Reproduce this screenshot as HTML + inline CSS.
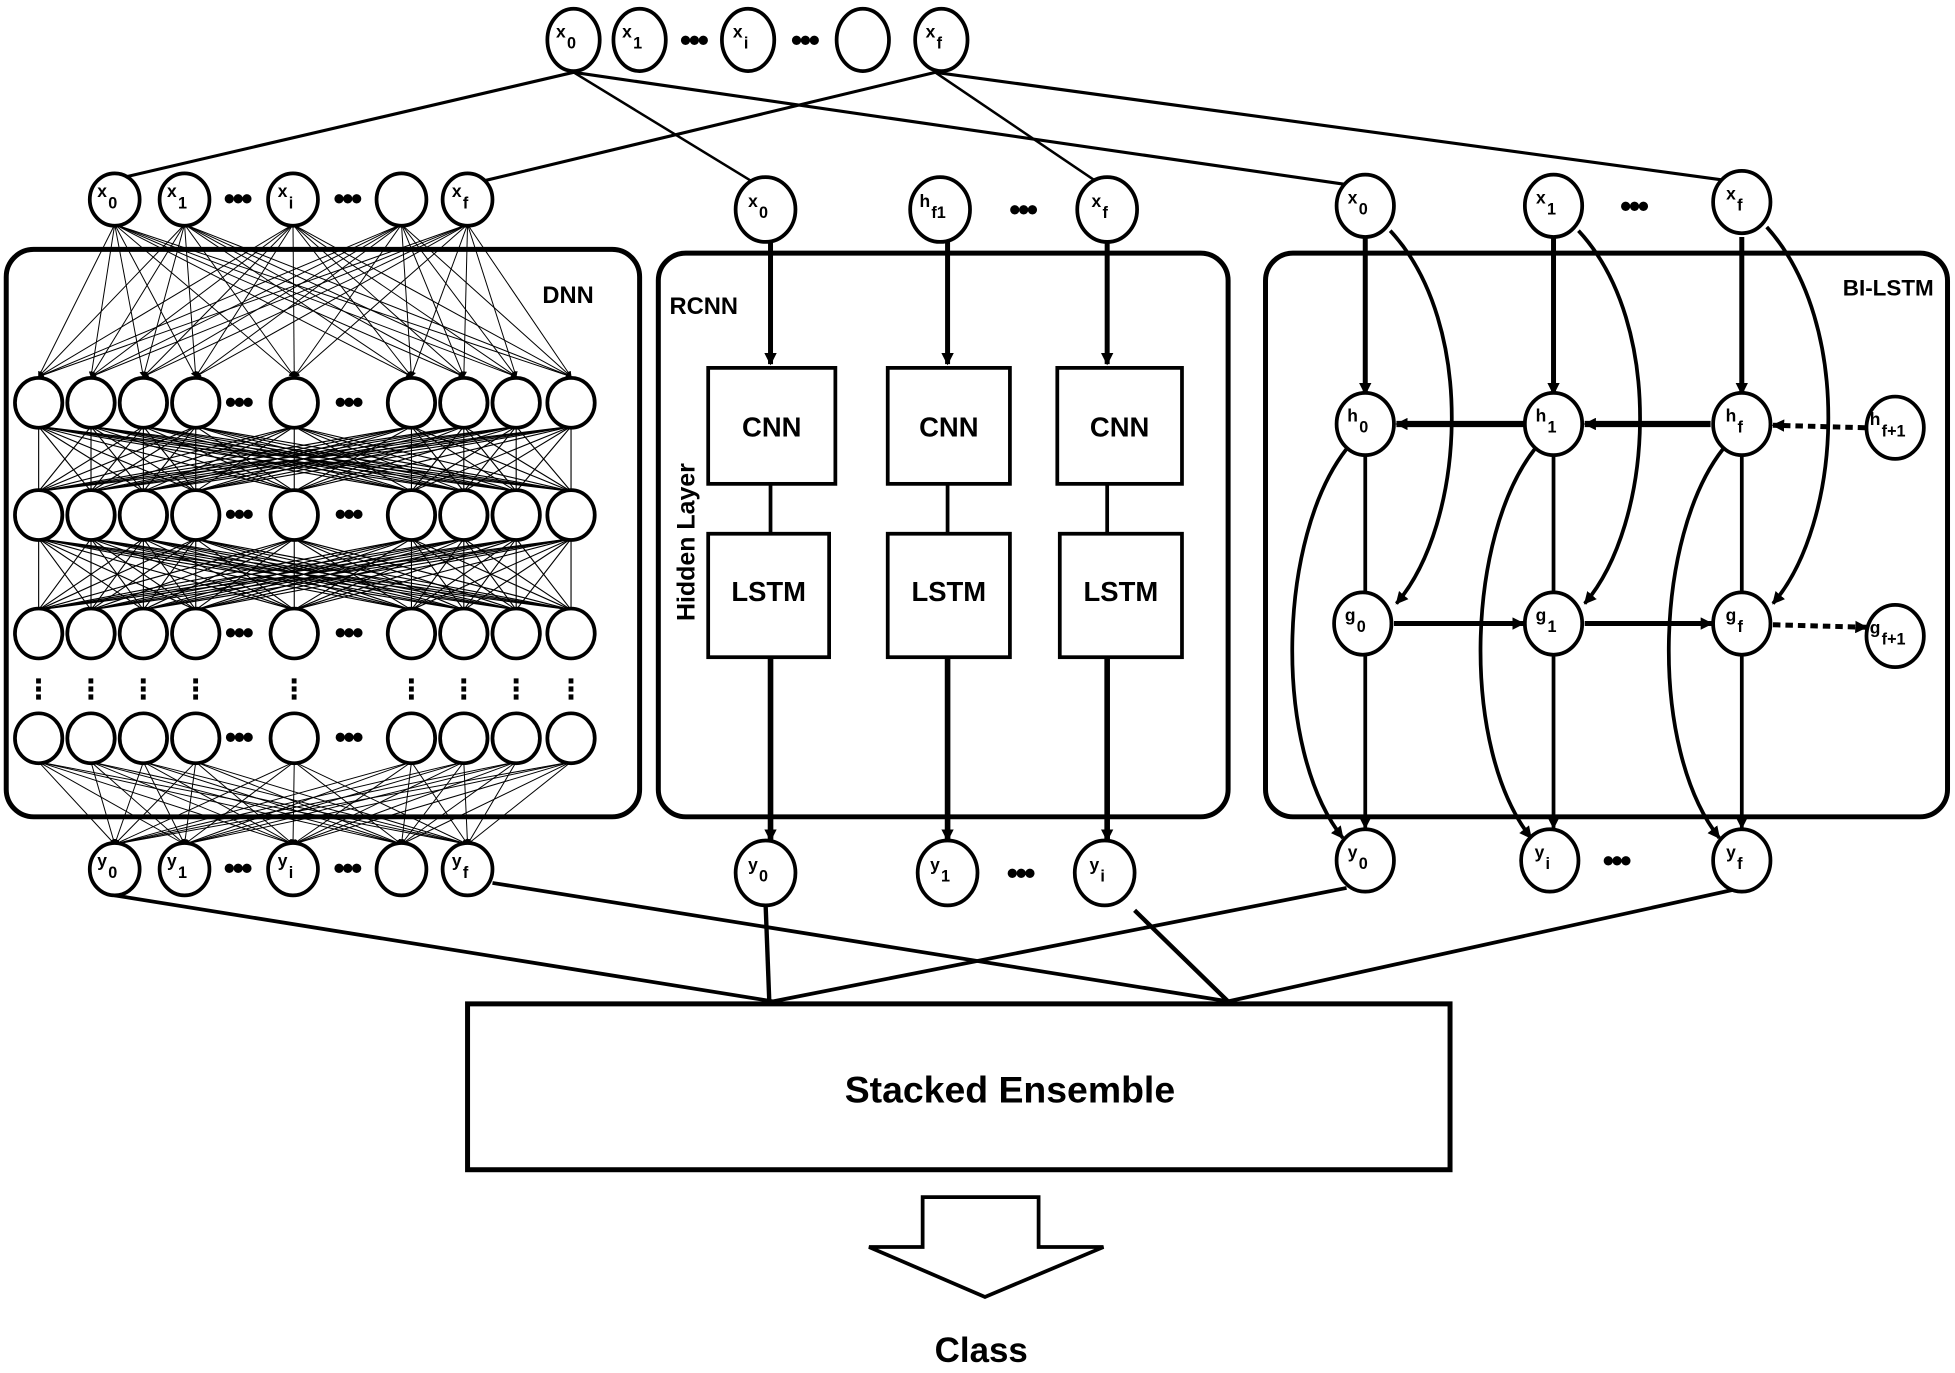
<!DOCTYPE html>
<html><head><meta charset="utf-8"><style>
html,body{margin:0;padding:0;background:#fff;}
svg{display:block;}
text{font-family:"Liberation Sans","DejaVu Sans",sans-serif;font-weight:bold;fill:#000;}
</style></head><body>
<svg id="s" width="1955" height="1373" viewBox="0 0 1568 1101" preserveAspectRatio="none" xmlns="http://www.w3.org/2000/svg">
<defs>
<marker id="a" markerWidth="6" markerHeight="6" refX="5" refY="3" orient="auto" markerUnits="strokeWidth"><path d="M0,0 L6,3 L0,6 z"/></marker>
<marker id="t" markerWidth="10" markerHeight="10" refX="9" refY="5" orient="auto" markerUnits="userSpaceOnUse"><path d="M0,0 L10,5 L0,10 z"/></marker>
</defs>
<g id="g"></g>
</svg>
<script>
var g=document.getElementById('g'),h='';
function L(x1,y1,x2,y2,w,m,d){h+='<line x1="'+x1+'" y1="'+y1+'" x2="'+x2+'" y2="'+y2+'" stroke="#000" stroke-width="'+w+'"'+(m?' marker-end="url(#'+m+')"':'')+(d?' stroke-dasharray="'+d+'"':'')+'/>';}
function C(x,y,rx,ry,lab,sub){h+='<ellipse cx="'+x+'" cy="'+y+'" rx="'+rx+'" ry="'+ry+'" fill="#fff" stroke="#000" stroke-width="3"/>';
 if(lab)h+='<text x="'+(x-6)+'" y="'+(y-2)+'" font-size="14" text-anchor="middle">'+lab+'<tspan font-size="13" dx="1" dy="9">'+sub+'</tspan></text>';}
function D(x,y){h+='<text x="'+x+'" y="'+y+'" font-size="26" text-anchor="middle" letter-spacing="-2">•••</text>';}
function R(x,y,w,hh,r,sw){h+='<rect x="'+x+'" y="'+y+'" width="'+w+'" height="'+hh+'" rx="'+r+'" fill="none" stroke="#000" stroke-width="'+sw+'"/>';}
L(460,58,100,142,2.5);L(460,58,604,146,2);L(460,58,1080,148,2.5);
L(750,58,384,146,2.5);L(750,58,880,146,2);L(750,58,1394,146,2.5);
L(92,718,620,803,3);L(395,708,985,803,3);L(614,724,617,803,3.5);L(910,730,985,803,3.5);L(1080,712,620,803,3);L(1397,712,985,803,3);
R(5,200,508,455,22,4);R(528,203,457,452,22,4);R(1015,203,547,452,22,4);
var ix=[92,148,235,322,375],lx=[31,73,115,157,236,330,372,414,458],ry=[323,413,508,592];
ix.forEach(function(a){lx.forEach(function(b){L(a,180,b,302,0.8,'a');});});
for(var k=0;k<2;k++)lx.forEach(function(a){lx.forEach(function(b){L(a,ry[k]+19,b,ry[k+1]-19,0.9);});});
lx.forEach(function(a){ix.forEach(function(b){L(a,611,b,677,0.8,'a');});});
ry.forEach(function(y){lx.forEach(function(x){C(x,y,19,20);});D(191,y+8);D(279,y+8);});
lx.forEach(function(x){h+='<text x="'+x+'" y="560" font-size="22" text-anchor="middle">⋮</text>';});
C(92,160,20,21,'x','0');C(148,160,20,21,'x','1');D(190,168);C(235,160,20,21,'x','i');D(278,168);C(322,160,20,21);C(375,160,20,21,'x','f');
C(92,697,20,21,'y','0');C(148,697,20,21,'y','1');D(190,705);C(235,697,20,21,'y','i');D(278,705);C(322,697,20,21);C(375,697,20,21,'y','f');
h+='<text x="435" y="243" font-size="19">DNN</text>';
C(460,32,21,25,'x','0');C(513,32,21,25,'x','1');D(556,41);C(600,32,21,25,'x','i');D(645,41);C(692,32,21,25);C(755,32,21,25,'x','f');
var cx=[618,760,888],cb=[[568,670],[712,810],[848,948]],lb=[[568,665],[712,810],[850,948]];
cx.forEach(function(x,i){L(x,193,x,292,4,'t');L(x,388,x,428,3);L(x,527,x,674,4.5,'t');
 R(cb[i][0],295,cb[i][1]-cb[i][0],93,0,3);R(lb[i][0],428,lb[i][1]-lb[i][0],99,0,3);
 h+='<text x="'+(cb[i][0]+cb[i][1])/2+'" y="350" font-size="22" text-anchor="middle">CNN</text>';
 h+='<text x="'+(lb[i][0]+lb[i][1])/2+'" y="482" font-size="22" text-anchor="middle">LSTM</text>';});
C(614,168,24,26,'x','0');C(754,168,24,26,'h','f1');D(820,177);C(888,168,24,26,'x','f');
C(614,700,24,26,'y','0');C(760,700,24,26,'y','1');D(818,709);C(886,700,24,26,'y','i');
h+='<text x="537" y="252" font-size="19">RCNN</text>';
h+='<text transform="translate(557,498) rotate(-90)" font-size="20">Hidden Layer</text>';
var bx=[1095,1246,1397];
bx.forEach(function(x,i){L(x,190,x,316,4,'t');L(x,524,x,664,3,'t');L(x,364,x,476,3);
 h+='<path d="M'+(x+20)+','+(i==2?182:185)+' C'+(x+90)+',260 '+(x+80)+',420 '+(x+25)+',484" fill="none" stroke="#000" stroke-width="3" marker-end="url(#t)"/>';
 h+='<path d="M'+(x-15)+',360 C'+(x-70)+',430 '+(x-75)+',600 '+(x-18)+',672" fill="none" stroke="#000" stroke-width="3" marker-end="url(#t)"/>';});
L(1222,340,1120,340,5,'t');L(1372,340,1271,340,5,'t');L(1496,343,1422,341,4,'t','6,4');
L(1118,500,1222,500,4,'t');L(1271,500,1373,500,4,'t');L(1422,501,1497,503,4,'t','6,4');
C(1095,165,23,25,'x','0');C(1246,165,23,25,'x','1');D(1310,174);C(1397,162,23,25,'x','f');
C(1095,340,23,25,'h','0');C(1246,340,23,25,'h','1');C(1397,340,23,25,'h','f');C(1520,343,23,25,'h','f+1');
C(1093,500,23,25,'g','0');C(1246,500,23,25,'g','1');C(1397,500,23,25,'g','f');C(1520,510,23,25,'g','f+1');
C(1095,690,23,25,'y','0');C(1243,690,23,25,'y','i');D(1296,699);C(1397,690,23,25,'y','f');
h+='<text x="1478" y="237" font-size="18">BI-LSTM</text>';
R(375,805,788,133,0,4);
h+='<text x="810" y="884" font-size="30" text-anchor="middle">Stacked Ensemble</text>';
h+='<polygon points="740,960 833,960 833,1000 885,1000 790,1040 697,1000 740,1000" fill="#fff" stroke="#000" stroke-width="3"/>';
h+='<text x="787" y="1092" font-size="28" text-anchor="middle">Class</text>';
g.innerHTML=h;
</script>
</body></html>
